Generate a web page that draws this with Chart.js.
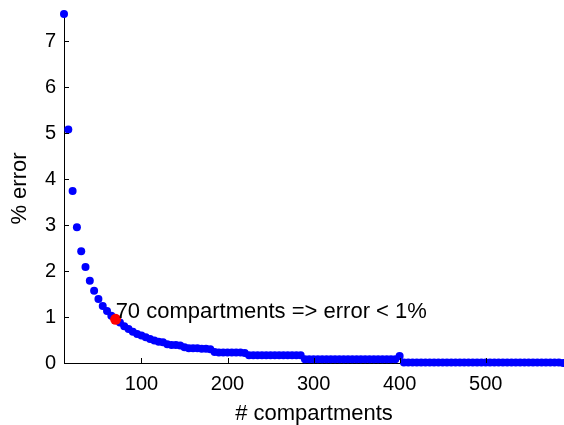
<!DOCTYPE html>
<html>
<head>
<meta charset="utf-8">
<script src="https://cdn.jsdelivr.net/npm/chart.js@4.4.1/dist/chart.umd.min.js"></script>
<style>
    body { margin: 0; background: #fff; }
    #wrap { width: 564px; height: 425px; }
</style>
</head>
<body>
<div id="wrap"><canvas id="chart" width="564" height="425"></canvas></div>
<script>
        const compartments = [
            10, 15, 20, 25, 30, 35, 40, 45, 50, 55, 60, 65, 70, 75, 80, 85, 90, 95, 100,
            105, 110, 115, 120, 125, 130, 135, 140, 145, 150, 155, 160, 165, 170, 175, 180,
            185, 190, 195, 200, 205, 210, 215, 220, 225, 230, 235, 240, 245, 250, 255, 260,
            265, 270, 275, 280, 285, 290, 295, 300, 305, 310, 315, 320, 325, 330, 335, 340,
            345, 350, 355, 360, 365, 370, 375, 380, 385, 390, 395, 400, 405, 410, 415, 420,
            425, 430, 435, 440, 445, 450, 455, 460, 465, 470, 475, 480, 485, 490, 495, 500,
            505, 510, 515, 520, 525, 530, 535, 540, 545, 550, 555, 560, 565, 570, 575, 580,
            585, 590
        ];
        const errorPct = [
            7.59, 5.08, 3.74, 2.95, 2.43, 2.09, 1.79, 1.57, 1.39, 1.24, 1.13, 1.03, 0.95, 0.88, 0.80, 0.74, 0.68, 0.63, 0.60,
            0.56, 0.52, 0.49, 0.46, 0.45, 0.41, 0.39, 0.39, 0.38, 0.34, 0.32, 0.32, 0.32, 0.31, 0.31, 0.30,
            0.24, 0.23, 0.23, 0.23, 0.23, 0.23, 0.23, 0.22, 0.17, 0.17, 0.17, 0.17, 0.17, 0.17, 0.17, 0.17,
            0.17, 0.17, 0.17, 0.17, 0.17, 0.08, 0.08, 0.08, 0.08, 0.08, 0.08, 0.08, 0.08, 0.08, 0.08, 0.08,
            0.08, 0.08, 0.08, 0.08, 0.08, 0.08, 0.08, 0.08, 0.08, 0.08, 0.08, 0.15, 0.01, 0.01, 0.01, 0.01,
            0.01, 0.01, 0.01, 0.01, 0.01, 0.01, 0.01, 0.01, 0.01, 0.01, 0.01, 0.01, 0.01, 0.01, 0.01, 0.01,
            0.01, 0.01, 0.01, 0.01, 0.01, 0.01, 0.01, 0.01, 0.01, 0.01, 0.01, 0.01, 0.01, 0.01, 0.01, 0.01,
            0.01, 0.0
        ];

        // the chosen point, highlighted in red
        const chosenX = [70];
        const chosenY = [0.95];

        const xTicks = [100, 200, 300, 400, 500];
        const yTicks = [0, 1, 2, 3, 4, 5, 6, 7];
        const xRange = [10, 591];
        const yRange = [0, 7.59];

        const noteText = '70 compartments => error < 1%';
        const noteAt = { x: 70, y: 1.1 };

        const fontFamily = 'Arial, "Liberation Sans", sans-serif';

        const inwardTicks = {
            id: 'inwardTicks',
            afterDraw(chart) {
                const ctx = chart.ctx;
                const xs = chart.scales.x;
                const ys = chart.scales.y;
                const area = chart.chartArea;
                ctx.save();
                ctx.strokeStyle = '#000';
                ctx.lineWidth = 1;
                ctx.beginPath();
                xs.ticks.forEach(t => {
                    const px = Math.round(xs.getPixelForValue(t.value)) + 0.5;
                    ctx.moveTo(px, area.bottom);
                    ctx.lineTo(px, area.bottom - 5);
                });
                ys.ticks.forEach(t => {
                    const py = Math.round(ys.getPixelForValue(t.value)) + 0.5;
                    ctx.moveTo(area.left, py);
                    ctx.lineTo(area.left + 5, py);
                });
                ctx.stroke();

                ctx.fillStyle = '#000';
                ctx.font = '22px ' + fontFamily;
                ctx.textAlign = 'left';
                ctx.textBaseline = 'middle';
                ctx.fillText(noteText, xs.getPixelForValue(noteAt.x), ys.getPixelForValue(noteAt.y));
                ctx.restore();
            }
        };

        new Chart(document.getElementById('chart'), {
            type: 'scatter',
            data: {
                datasets: [
                    {
                        label: 'chosen',
                        data: chosenX.map((x, i) => ({ x: x, y: chosenY[i] })),
                        backgroundColor: '#ff0000',
                        borderWidth: 0,
                        pointRadius: 5.5,
                        clip: false,
                        order: 0
                    },
                    {
                        label: 'error',
                        data: compartments.map((x, i) => ({ x: x, y: errorPct[i] })),
                        backgroundColor: '#0000ff',
                        borderWidth: 0,
                        pointRadius: 4,
                        clip: false,
                        order: 1
                    }
                ]
            },
            options: {
                responsive: false,
                animation: false,
                devicePixelRatio: 1,
                layout: { autoPadding: false, padding: { top: 14, right: 0, left: 0, bottom: 0 } },
                plugins: { legend: { display: false }, tooltip: { enabled: false } },
                scales: {
                    x: {
                        type: 'linear',
                        min: xRange[0],
                        max: xRange[1],
                        afterBuildTicks: scale => { scale.ticks = xTicks.map(v => ({ value: v })); },
                        afterFit: scale => {
                            scale.height = 62;
                            scale.paddingLeft = 0;
                            scale.paddingRight = 0;
                        },
                        grid: { display: true, drawOnChartArea: false, drawTicks: false },
                        border: { display: true, color: '#000', width: 1 },
                        ticks: { color: '#000', padding: 9, maxRotation: 0, font: { family: fontFamily, size: 20 } },
                        title: {
                            display: true,
                            text: '# compartments',
                            color: '#000',
                            padding: { top: 0, bottom: -2 },
                            font: { family: fontFamily, size: 22 }
                        }
                    },
                    y: {
                        type: 'linear',
                        min: yRange[0],
                        max: yRange[1],
                        afterBuildTicks: scale => { scale.ticks = yTicks.map(v => ({ value: v })); },
                        afterFit: scale => {
                            scale.width = 64;
                            scale.paddingTop = 0;
                            scale.paddingBottom = 0;
                        },
                        grid: { display: true, drawOnChartArea: false, drawTicks: false },
                        border: { display: true, color: '#000', width: 1 },
                        ticks: { color: '#000', padding: 8, font: { family: fontFamily, size: 20 } },
                        title: {
                            display: true,
                            text: '% error',
                            color: '#000',
                            padding: { top: 7, bottom: 0 },
                            font: { family: fontFamily, size: 22 }
                        }
                    }
                }
            },
            plugins: [inwardTicks]
        });
</script>
</body>
</html>
